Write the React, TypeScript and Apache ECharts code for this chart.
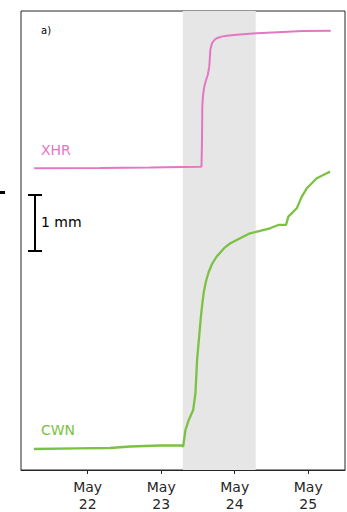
import React, { useEffect, useRef } from "react";
import * as echarts from "echarts";

// x in days of May, y in mm (offset display units)
const xhrX = [21.273, 22.167, 22.848, 23.528, 23.548, 23.555, 23.559, 23.569, 23.586, 23.61, 23.633, 23.654, 23.664, 23.668, 23.691, 23.72, 23.755, 23.82, 23.891, 24.027, 24.299, 24.929, 25.306];
const xhrY = [5.417, 5.422, 5.431, 5.443, 5.449, 5.925, 6.517, 6.732, 6.882, 7.002, 7.092, 7.241, 7.451, 7.54, 7.661, 7.715, 7.75, 7.78, 7.797, 7.815, 7.84, 7.882, 7.887];

const cwnX = [21.269, 21.85, 22.303, 22.576, 22.984, 23.283, 23.298, 23.33, 23.375, 23.435, 23.466, 23.488, 23.528, 23.541, 23.562, 23.582, 23.61, 23.644, 23.691, 23.755, 23.868, 23.936, 24.027, 24.208, 24.344, 24.48, 24.593, 24.698, 24.729, 24.844, 24.912, 24.98, 25.116, 25.252, 25.297];
const cwnY = [0.377, 0.39, 0.395, 0.422, 0.44, 0.44, 0.418, 0.718, 0.898, 1.077, 1.382, 1.975, 2.573, 2.765, 3.016, 3.214, 3.393, 3.546, 3.698, 3.833, 3.998, 4.066, 4.129, 4.25, 4.291, 4.339, 4.399, 4.399, 4.548, 4.698, 4.907, 5.057, 5.237, 5.327, 5.356];

const tickDays = [22, 23, 24, 25];
const tickLabels = ["May\n22", "May\n23", "May\n24", "May\n25"];
const shadeRange = [23.295, 24.286];
const xRange = [21.093, 25.5];
const yRange = [0, 8.24];

const PINK = "#e377c2";
const GREEN = "#7bc142";
const FONT = "DejaVu Sans";

export default function App() {
  const ref = useRef<HTMLDivElement>(null);
  useEffect(() => {
    if (!ref.current) return;
    const chart = echarts.init(ref.current, null, { renderer: "svg" });
    chart.setOption({
      animation: false,
      grid: {
        left: 21,
        right: 2,
        top: 11,
        bottom: 42,
        show: true,
        borderColor: "#262626",
        borderWidth: 1,
        backgroundColor: "transparent",
      },
      xAxis: {
        type: "value",
        min: xRange[0],
        max: xRange[1],
        splitLine: { show: false },
        axisLine: { show: true, onZero: false, lineStyle: { color: "#262626", width: 1 } },
        axisTick: {
          show: true,
          length: 4,
          customValues: tickDays,
          lineStyle: { color: "#262626", width: 1 },
        },
        axisLabel: {
          customValues: tickDays,
          formatter: (v: number) => tickLabels[tickDays.indexOf(Math.round(v))] ?? "",
          color: "#262626",
          fontFamily: FONT,
          fontSize: 14,
          lineHeight: 16.5,
          margin: 9,
        },
      },
      yAxis: {
        type: "value",
        min: yRange[0],
        max: yRange[1],
        show: false,
        splitLine: { show: false },
      },
      series: [
        {
          type: "line",
          data: [],
          z: 1,
          silent: true,
          markArea: {
            silent: true,
            itemStyle: { color: "#e6e6e6", opacity: 1 },
            data: [[{ xAxis: shadeRange[0] }, { xAxis: shadeRange[1] }]],
          },
        },
        {
          name: "XHR",
          type: "line",
          z: 3,
          showSymbol: false,
          symbol: "none",
          data: xhrX.map((x, i) => [x, xhrY[i]]),
          lineStyle: { color: PINK, width: 2 },
          itemStyle: { color: PINK },
        },
        {
          name: "CWN",
          type: "line",
          z: 3,
          showSymbol: false,
          symbol: "none",
          data: cwnX.map((x, i) => [x, cwnY[i]]),
          lineStyle: { color: GREEN, width: 2.3 },
          itemStyle: { color: GREEN },
        },
      ],
      graphic: [
        { type: "rect", shape: { x: 0, y: 191, width: 5, height: 3 }, style: { fill: "#000" } },
        { type: "line", shape: { x1: 35, y1: 195, x2: 35, y2: 251 }, style: { stroke: "#000", lineWidth: 2 } },
        { type: "line", shape: { x1: 28, y1: 195, x2: 42, y2: 195 }, style: { stroke: "#000", lineWidth: 2 } },
        { type: "line", shape: { x1: 28, y1: 251, x2: 42, y2: 251 }, style: { stroke: "#000", lineWidth: 2 } },
        {
          type: "text",
          x: 41,
          y: 222,
          style: { text: "1 mm", fill: "#000", font: `14px '${FONT}'`, verticalAlign: "middle" },
        },
        {
          type: "text",
          x: 41,
          y: 30,
          style: { text: "a)", fill: "#000", font: `10px '${FONT}'`, verticalAlign: "middle" },
        },
        {
          type: "text",
          x: 41,
          y: 150,
          style: { text: "XHR", fill: PINK, font: `14px '${FONT}'`, verticalAlign: "middle" },
        },
        {
          type: "text",
          x: 41,
          y: 430,
          style: { text: "CWN", fill: GREEN, font: `14px '${FONT}'`, verticalAlign: "middle" },
        },
      ],
    });
    return () => chart.dispose();
  }, []);
  return (
    <div
      ref={ref}
      style={{ width: 347, height: 512, position: "fixed", left: 0, top: 0, background: "#fff" }}
    />
  );
}
